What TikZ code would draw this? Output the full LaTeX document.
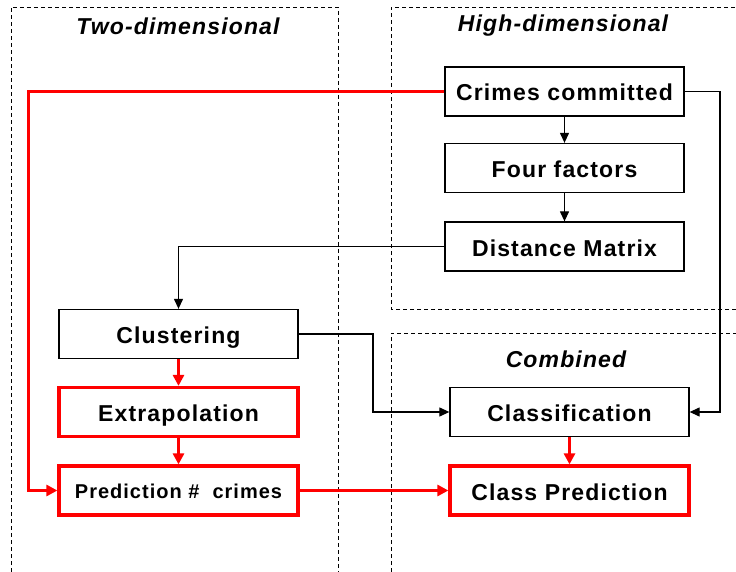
\documentclass[tikz,border=0pt]{standalone}
\usepackage{fontspec}
\setmainfont{Liberation Sans}[LetterSpace=5]
\usetikzlibrary{arrows.meta}
\tikzset{
  region/.style={draw=black, line width=0.9pt, dash pattern=on 4pt off 3pt},
  box/.style={draw=black, line width=1.3pt, minimum width=239pt, minimum height=49pt, inner sep=0pt, text height=19pt, text depth=0pt, font=\fontsize{23}{26}\selectfont\bfseries},
  redbox/.style={box, draw=red, line width=3.2pt},
  title/.style={font=\fontsize{23}{26}\selectfont\bfseries\itshape, inner sep=0pt},
  blk/.style={draw=black, line width=1.2pt, -{Triangle[length=10pt,width=9pt]}},
  rd/.style={draw=red, line width=3pt, -{Triangle[length=11pt,width=11pt]}}
}
\begin{document}
\begin{tikzpicture}[x=1pt,y=-1pt]
\useasboundingbox (0,0) rectangle (736,572);
\fill[white] (0,0) rectangle (736,572);
% regions
\draw[region] (11,572) -- (11,7) -- (338,7) -- (338,572);
\draw[region] (736,309) -- (391,309) -- (391,7) -- (736,7);
\draw[region] (391,572) -- (391,333) -- (736,333);
\node[title] (t1) at (178,26) {Two-dimensional};
\node[title] (t2) at (563,26) {High-dimensional};
\node[title] (t3) at (566,359) {Combined};
% nodes
\node[box] (crimes) at (564.5,91.5) {Crimes committed};
\node[box] (four) at (564.5,168) {Four factors};
\node[box] (dist) at (564.5,246.5) {Distance Matrix};
\node[box] (clust) at (178.5,334) {Clustering};
\node[redbox] (extra) at (178.5,412) {Extrapolation};
\node[redbox, text height=16pt, font=\fontsize{20}{24}\selectfont\bfseries] (pred) at (178.5,490.5) {Prediction \#\ \ crimes};
\node[box] (classif) at (569.5,412) {Classification};
\node[redbox] (classpred) at (569.5,490.5) {Class Prediction};
% connectors
\coordinate (cl) at (28,91.5);
\coordinate (cr) at (720,91.5);
\draw[rd] (crimes.west) -- (cl) |- (pred.west);
\draw[blk] (crimes.east) -- (cr) |- (classif.east);
\draw[blk] (crimes) -- (four);
\draw[blk] (four) -- (dist);
\draw[blk] (dist.west) -| (clust.north);
\coordinate (kn) at (373,334);
\draw[blk] (clust.east) -- (kn) |- (classif.west);
\draw[rd] (clust) -- (extra);
\draw[rd] (extra) -- (pred);
\draw[rd] (classif) -- (classpred);
\draw[rd] (pred) -- (classpred);
\end{tikzpicture}
\end{document}
